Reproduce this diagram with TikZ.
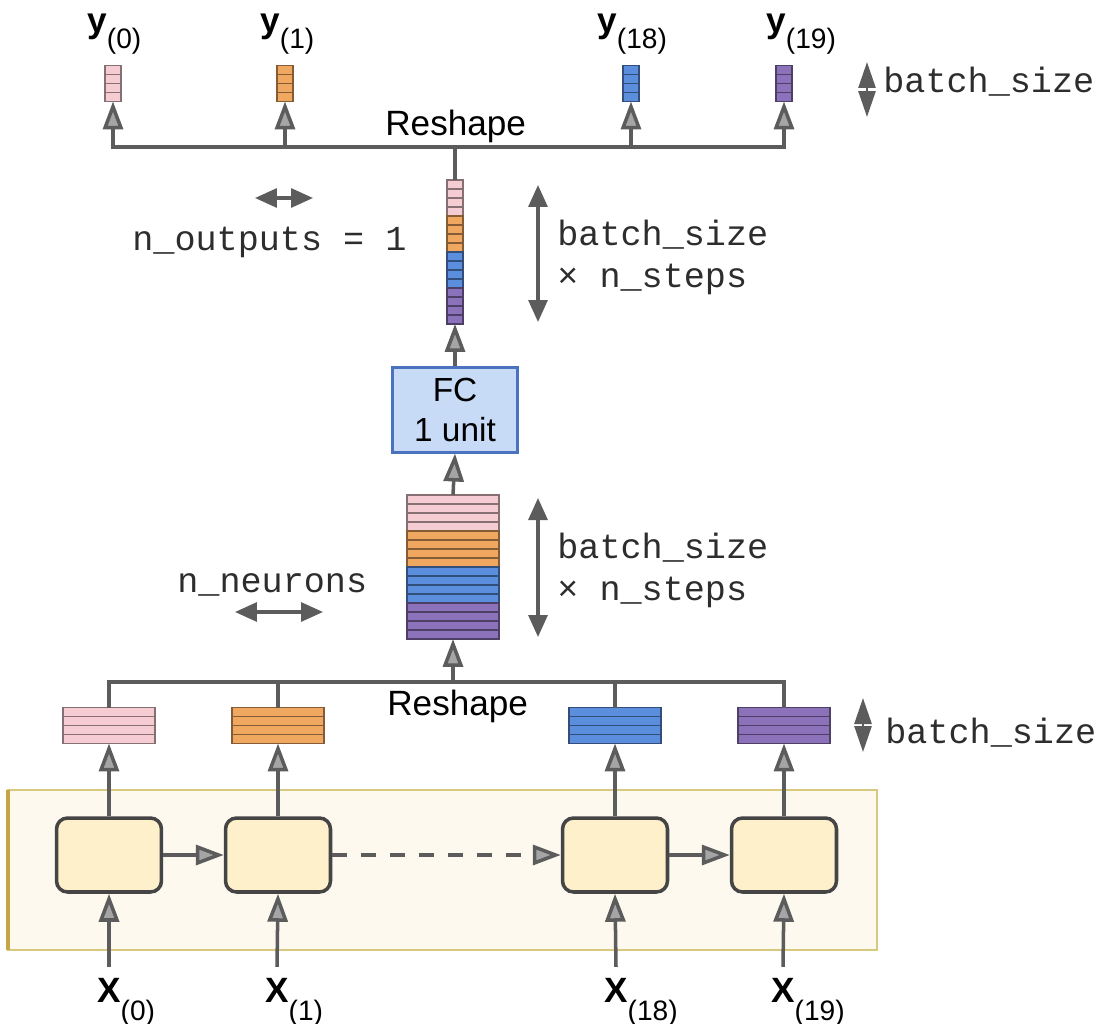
\documentclass[tikz,border=0pt]{standalone}
\usepackage{fontspec}
\setmainfont{Liberation Sans}
\setmonofont{Liberation Mono}
\usetikzlibrary{arrows.meta,positioning,calc}
\definecolor{linegray}{RGB}{92,92,92}
\definecolor{tipgray}{RGB}{165,165,165}
\definecolor{steppink}{RGB}{244,204,210}
\definecolor{steporange}{RGB}{240,168,96}
\definecolor{stepblue}{RGB}{92,142,222}
\definecolor{steppurple}{RGB}{140,114,186}
\definecolor{cellfill}{RGB}{254,240,203}
\definecolor{panelfill}{RGB}{253,249,239}
\definecolor{paneledge}{RGB}{217,201,126}
\definecolor{panelside}{RGB}{196,166,70}
\definecolor{fcfill}{RGB}{199,218,246}
\definecolor{fcedge}{RGB}{74,114,191}
\definecolor{monotext}{RGB}{45,45,45}
\newcommand{\outlbl}[2]{\textbf{#1}\raisebox{-9pt}{\fontsize{16}{16}\selectfont(#2)}}
\newcommand{\inlbl}[2]{\textbf{#1}\rlap{\raisebox{-10.5pt}{\fontsize{16}{16}\selectfont(#2)}}}

\begin{document}
\begin{tikzpicture}[x=0.02cm,y=-0.02cm,
    band/.style={rectangle,draw=#1!55!black,fill=#1,line width=0.8pt,minimum height=0.72cm,inner sep=0pt,outer sep=0pt,
      path picture={\foreach \f in {0.25,0.5,0.75}
        \draw[#1!55!black,line width=0.8pt] ($(path picture bounding box.north west)!\f!(path picture bounding box.south west)$) -- ($(path picture bounding box.north east)!\f!(path picture bounding box.south east)$);}},
    narrowband/.style={band=#1,minimum width=0.32cm},
    wideband/.style={band=#1,minimum width=1.84cm},
    cell/.style={draw=linegray!75!black,line width=2pt,fill=cellfill,rounded corners=0.22cm,minimum width=2.1cm,minimum height=1.48cm},
    fcbox/.style={draw=fcedge,line width=1.2pt,fill=fcfill,minimum width=2.5cm,minimum height=1.7cm,align=center,font=\fontsize{19}{23}\selectfont},
    panel/.style={draw=paneledge,line width=1.2pt,fill=panelfill},
    link/.style={draw=linegray,line width=2pt},
    flow/.style={link,-{Triangle[length=0.56cm,width=0.4cm,fill=tipgray]}},
    dim/.style={draw=linegray,line width=1.8pt,{Triangle[length=0.44cm,width=0.38cm]}-{Triangle[length=0.44cm,width=0.38cm]}},
    shortdim/.style={draw=linegray,line width=1.5pt,{Triangle[length=0.52cm,width=0.34cm]}-{Triangle[length=0.52cm,width=0.34cm]}},
    lab/.style={inner sep=0pt,font=\fontsize{20}{24}\selectfont},
    inlab/.style={inner sep=6pt,font=\fontsize{20}{24}\selectfont},
    mono/.style={inner sep=0pt,align=left,text=monotext,font=\ttfamily\fontsize{20}{24}\selectfont}]
  \useasboundingbox (0,0) rectangle (1102,1024);

  \draw[panel] (8,790) rectangle (877,950);
  \draw[panelside,line width=1.8pt] (8,790) -- (8,950);

  \node[lab,anchor=base west] (ly0) at (87,33) {\outlbl{y}{0}};
  \node[lab,anchor=base west] (ly1) at (260,33) {\outlbl{y}{1}};
  \node[lab,anchor=base west] (ly18) at (597,33) {\outlbl{y}{18}};
  \node[lab,anchor=base west] (ly19) at (766,33) {\outlbl{y}{19}};
  \node[narrowband=steppink] (y0) at (113,83.5) {};
  \node[narrowband=steporange] (y1) at (285,83.5) {};
  \node[narrowband=stepblue] (y18) at (631,83.5) {};
  \node[narrowband=steppurple] (y19) at (784,83.5) {};
  \node[lab,anchor=base west] (rsTop) at (385,135) {Reshape};

  \node[narrowband=steppink] (col0) at (455,198) {};
  \node[narrowband=steporange,below=0pt of col0] (col1) {};
  \node[narrowband=stepblue,below=0pt of col1] (col18) {};
  \node[narrowband=steppurple,below=0pt of col18] (col19) {};
  \node[fcbox] (fc) at (455,410) {FC\\1 unit};
  \node[wideband=steppink] (st0) at (453,513) {};
  \node[wideband=steporange,below=0pt of st0] (st1) {};
  \node[wideband=stepblue,below=0pt of st1] (st18) {};
  \node[wideband=steppurple,below=0pt of st18] (st19) {};

  \node[lab,anchor=base west] (rsLow) at (387,715) {Reshape};
  \node[wideband=steppink] (h0) at (109,725.5) {};
  \node[wideband=steporange] (h1) at (278,725.5) {};
  \node[wideband=stepblue] (h18) at (615,725.5) {};
  \node[wideband=steppurple] (h19) at (784,725.5) {};

  \node[cell] (c0) at (109,855) {};
  \node[cell] (c1) at (278,855) {};
  \node[cell] (c18) at (615,855) {};
  \node[cell] (c19) at (784,855) {};
  \node[inlab,anchor=base] (x0) at (109,1002) {\inlbl{X}{0}};
  \node[inlab,anchor=base] (x1) at (277,1002) {\inlbl{X}{1}};
  \node[inlab,anchor=base] (x18) at (616,1002) {\inlbl{X}{18}};
  \node[inlab,anchor=base] (x19) at (783,1002) {\inlbl{X}{19}};

  \node[mono,anchor=base west] (bsTop) at (883,92) {batch\_size};
  \node[mono,anchor=base west] (nOut) at (132,250) {n\_outputs = 1};
  \node[mono,anchor=west] (bsCol) at (557,257) {batch\_size\\× n\_steps};
  \node[mono,anchor=west] (bsStack) at (557,570) {batch\_size\\× n\_steps};
  \node[mono,anchor=base west] (nNeu) at (177,592) {n\_neurons};
  \node[mono,anchor=base west] (bsLow) at (885,743) {batch\_size};

  \coordinate (topbus) at (455,147);
  \coordinate (lowbus) at (453,682);
  \draw[link] (col0.north) -- (topbus);
  \draw[flow] (topbus) -| (y0.south);
  \draw[flow] (topbus) -| (y1.south);
  \draw[flow] (topbus) -| (y18.south);
  \draw[flow] (topbus) -| (y19.south);
  \draw[flow] (fc.north) -- (col19.south);
  \draw[flow] (st0.north) -- (fc.south);
  \draw[link] (h0.north) |- (lowbus);
  \draw[link] (h1.north) |- (lowbus);
  \draw[link] (h18.north) |- (lowbus);
  \draw[link] (h19.north) |- (lowbus);
  \draw[flow] (lowbus) -- (st19.south);
  \draw[flow] (c0.north) -- (h0.south);
  \draw[flow] (c1.north) -- (h1.south);
  \draw[flow] (c18.north) -- (h18.south);
  \draw[flow] (c19.north) -- (h19.south);
  \draw[flow] (c0) -- (c1);
  \draw[flow,dash pattern=on 0.3cm off 0.28cm] (c1) -- (c18);
  \draw[flow] (c18) -- (c19);
  \draw[flow] (x0.north) -- (c0.south);
  \draw[flow] (x1.north) -- (c1.south);
  \draw[flow] (x18.north) -- (c18.south);
  \draw[flow] (x19.north) -- (c19.south);

  \coordinate (szTopA) at (867,62);
  \coordinate (szTopB) at (867,117);
  \coordinate (szLowA) at (863,698);
  \coordinate (szLowB) at (863,752);
  \coordinate (colA) at (538,185);
  \coordinate (colB) at (538,322);
  \coordinate (stA) at (538,498);
  \coordinate (stB) at (538,637);
  \coordinate (outA) at (255,198);
  \coordinate (outB) at (313,198);
  \coordinate (neuA) at (235,612);
  \coordinate (neuB) at (323,612);
  \draw[shortdim] (szTopA) -- (szTopB);
  \draw[shortdim] (szLowA) -- (szLowB);
  \draw[dim] (colA) -- (colB);
  \draw[dim] (stA) -- (stB);
  \draw[dim] (outA) -- (outB);
  \draw[dim] (neuA) -- (neuB);
\end{tikzpicture}
\end{document}
